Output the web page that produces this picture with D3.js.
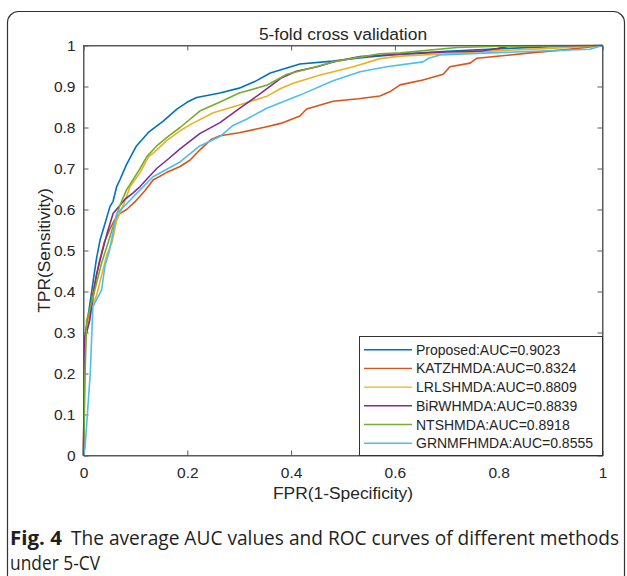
<!DOCTYPE html>
<html lang="en">
<head>
<meta charset="UTF-8">
<title>5-fold cross validation</title>
<script src="https://d3js.org/d3.v7.min.js"></script>
<style>
    body { margin: 0; background: #fff; }
    .tick text, .lab, .legend_text { font-family: "Liberation Sans", Arial, sans-serif; fill: #262626; }
    .caption { font-family: "Open Sans", sans-serif; fill: #231f20; }
</style>
</head>
<body>
<svg width="627" height="576"></svg>
<script>

    // ROC points [FPR, TPR]
    const proposed = [[0,0],[0.002,0.22],[0.004,0.30],[0.01,0.35],[0.018,0.42],[0.025,0.48],[0.032,0.526],[0.04,0.56],
        [0.051,0.607],[0.057,0.62],[0.064,0.656],[0.07,0.672],[0.083,0.71],[0.102,0.755],[0.125,0.788],[0.153,0.815],
        [0.18,0.845],[0.2,0.862],[0.218,0.873],[0.263,0.884],[0.3,0.896],[0.33,0.912],[0.36,0.933],[0.417,0.955],
        [0.48,0.962],[0.55,0.972],[0.61,0.979],[0.7,0.986],[0.8,0.992],[0.9,0.997],[1,1]];
    const katz = [[0,0],[0.002,0.25],[0.005,0.31],[0.012,0.35],[0.02,0.41],[0.03,0.47],[0.04,0.52],[0.05,0.55],
        [0.06,0.575],[0.07,0.59],[0.083,0.60],[0.1,0.62],[0.118,0.645],[0.134,0.672],[0.16,0.69],[0.186,0.705],
        [0.205,0.72],[0.224,0.745],[0.245,0.77],[0.263,0.78],[0.3,0.787],[0.353,0.802],[0.38,0.81],[0.417,0.828],
        [0.43,0.845],[0.481,0.864],[0.53,0.87],[0.571,0.877],[0.59,0.887],[0.61,0.904],[0.654,0.916],[0.693,0.93],
        [0.706,0.948],[0.745,0.957],[0.758,0.969],[0.822,0.977],[0.861,0.982],[0.93,0.99],[1,1]];
    const lrls = [[0,0],[0.002,0.15],[0.004,0.28],[0.01,0.33],[0.018,0.37],[0.025,0.39],[0.035,0.44],[0.045,0.49],
        [0.055,0.52],[0.064,0.574],[0.078,0.615],[0.09,0.656],[0.109,0.69],[0.125,0.728],[0.141,0.745],[0.16,0.768],
        [0.186,0.792],[0.21,0.81],[0.25,0.836],[0.3,0.855],[0.353,0.876],[0.38,0.895],[0.404,0.908],[0.456,0.928],
        [0.52,0.948],[0.571,0.968],[0.61,0.974],[0.7,0.98],[0.808,0.988],[0.9,0.993],[1,1]];
    const birw = [[0,0],[0.002,0.29],[0.006,0.30],[0.012,0.33],[0.02,0.40],[0.025,0.44],[0.032,0.477],[0.045,0.54],
        [0.057,0.59],[0.07,0.61],[0.08,0.625],[0.095,0.64],[0.109,0.656],[0.125,0.678],[0.141,0.70],[0.165,0.725],
        [0.186,0.748],[0.224,0.785],[0.263,0.812],[0.3,0.846],[0.34,0.882],[0.38,0.92],[0.41,0.937],[0.45,0.948],
        [0.481,0.96],[0.533,0.973],[0.61,0.979],[0.7,0.984],[0.77,0.987],[0.8,0.993],[0.822,0.999],[1,1]];
    const nts = [[0,0],[0.003,0.20],[0.006,0.33],[0.015,0.37],[0.025,0.42],[0.035,0.47],[0.045,0.51],[0.055,0.55],
        [0.07,0.61],[0.083,0.648],[0.109,0.70],[0.122,0.729],[0.141,0.755],[0.165,0.78],[0.186,0.80],[0.224,0.84],
        [0.263,0.862],[0.3,0.884],[0.353,0.903],[0.392,0.93],[0.449,0.948],[0.48,0.96],[0.571,0.98],[0.61,0.982],
        [0.72,0.995],[0.8,0.998],[1,1]];
    const grnmf = [[0,0],[0.003,0.02],[0.013,0.2],[0.018,0.363],[0.028,0.387],[0.035,0.404],[0.041,0.46],[0.05,0.50],
        [0.064,0.59],[0.08,0.61],[0.095,0.63],[0.109,0.648],[0.134,0.68],[0.186,0.716],[0.224,0.755],[0.263,0.778],
        [0.288,0.805],[0.314,0.82],[0.353,0.847],[0.417,0.879],[0.481,0.914],[0.533,0.936],[0.584,0.948],[0.654,0.96],
        [0.665,0.969],[0.687,0.977],[0.783,0.982],[0.976,0.991],[1,1]];

    const methods = ["Proposed", "KATZHMDA", "LRLSHMDA", "BiRWHMDA", "NTSHMDA", "GRNMFHMDA"];
    const aucs = ["0.9023", "0.8324", "0.8809", "0.8839", "0.8918", "0.8555"];
    const curves = [proposed, katz, lrls, birw, nts, grnmf];
    const colors = ["#0072bd", "#d95319", "#edb120", "#7e2f8e", "#77ac30", "#4dbeee"];

    const xTicks = [0, 0.2, 0.4, 0.6, 0.8, 1];
    const yTicks = [0, 0.1, 0.2, 0.3, 0.4, 0.5, 0.6, 0.7, 0.8, 0.9, 1];

    const svg = d3.select("svg");
    const pLeft = 83.5, pRight = 602.5, pTop = 45.5, pBottom = 455.5;

    // figure frame
    svg.append("rect")
        .attr("x", 7.5).attr("y", 11.5).attr("width", 617).attr("height", 590)
        .attr("rx", 11).attr("fill", "none").attr("stroke", "#333").attr("stroke-width", 1.2);

    const x = d3.scaleLinear().domain([0, 1]).range([pLeft, pRight]);
    const y = d3.scaleLinear().domain([0, 1]).range([pBottom, pTop]);

    const fmt = d => d === 0 || d === 1 ? String(d) : d3.format(".1f")(d);

    svg.append("g").attr("transform", `translate(0,${pBottom})`)
        .call(d3.axisBottom(x).tickValues(xTicks).tickSizeInner(-5).tickSizeOuter(0).tickPadding(11).tickFormat(fmt));
    svg.append("g").attr("transform", `translate(0,${pTop})`)
        .call(d3.axisTop(x).tickValues(xTicks).tickSizeInner(-5).tickSizeOuter(0).tickFormat(""));
    svg.append("g").attr("transform", `translate(${pLeft},0)`)
        .call(d3.axisLeft(y).tickValues(yTicks).tickSizeInner(-5).tickSizeOuter(0).tickPadding(8).tickFormat(fmt));
    svg.append("g").attr("transform", `translate(${pRight},0)`)
        .call(d3.axisRight(y).tickValues(yTicks).tickSizeInner(-5).tickSizeOuter(0).tickFormat(""));

    svg.selectAll(".domain, .tick line").attr("stroke", "#5a5a5a");
    svg.selectAll(".tick text").style("font-size", "15.5px");

    const line = d3.line().x(d => x(d[0])).y(d => y(d[1]));

    svg.append("g").selectAll("path")
        .data(curves)
        .enter()
        .append("path")
        .attr("d", d => line(d))
        .attr("fill", "none")
        .attr("stroke", (d, i) => colors[i])
        .attr("stroke-width", 1.6)
        .attr("stroke-linejoin", "round");

    // axes box
    svg.append("rect")
        .attr("x", pLeft).attr("y", pTop).attr("width", pRight - pLeft).attr("height", pBottom - pTop)
        .attr("fill", "none").attr("stroke", "#5a5a5a").attr("stroke-width", 1);

    svg.append("text").attr("class", "lab")
        .attr("x", (pLeft + pRight) / 2).attr("y", 40).attr("text-anchor", "middle")
        .style("font-size", "17.4px").text("5-fold cross validation");
    svg.append("text").attr("class", "lab")
        .attr("x", (pLeft + pRight) / 2).attr("y", 499).attr("text-anchor", "middle")
        .style("font-size", "17.4px").text("FPR(1-Specificity)");
    svg.append("text").attr("class", "lab")
        .attr("transform", `translate(50,${(pTop + pBottom) / 2}) rotate(-90)`).attr("text-anchor", "middle")
        .style("font-size", "17.4px").text("TPR(Sensitivity)");

    // legend
    const lg = svg.append("g");
    lg.append("rect")
        .attr("x", 359.5).attr("y", 336.5).attr("width", pRight - 359.5).attr("height", pBottom - 336.5)
        .attr("fill", "#fff").attr("stroke", "#333").attr("stroke-width", 1);
    methods.forEach(function (m, i) {
        const cy = 349.7 + i * 18.7;
        lg.append("line").attr("x1", 364).attr("x2", 412).attr("y1", cy).attr("y2", cy)
            .attr("stroke", colors[i]).attr("stroke-width", 1.4);
        lg.append("text").attr("class", "legend_text")
            .attr("x", 416).attr("y", cy + 5).style("font-size", "14px")
            .text(m + ":AUC=" + aucs[i]);
    });

    // caption
    const cap = svg.append("text").attr("class", "caption").attr("y", 545).style("font-size", "19.2px");
    cap.append("tspan").attr("x", 10).attr("textLength", 52).attr("lengthAdjust", "spacingAndGlyphs")
        .style("font-weight", "bold").text("Fig. 4");
    cap.append("tspan").attr("x", 71).attr("textLength", 548).attr("lengthAdjust", "spacingAndGlyphs")
        .text("The average AUC values and ROC curves of different methods");
    svg.append("text").attr("class", "caption").attr("x", 10).attr("y", 570).style("font-size", "19.2px")
        .attr("textLength", 90).attr("lengthAdjust", "spacingAndGlyphs")
        .text("under 5-CV");

</script>
</body>
</html>
